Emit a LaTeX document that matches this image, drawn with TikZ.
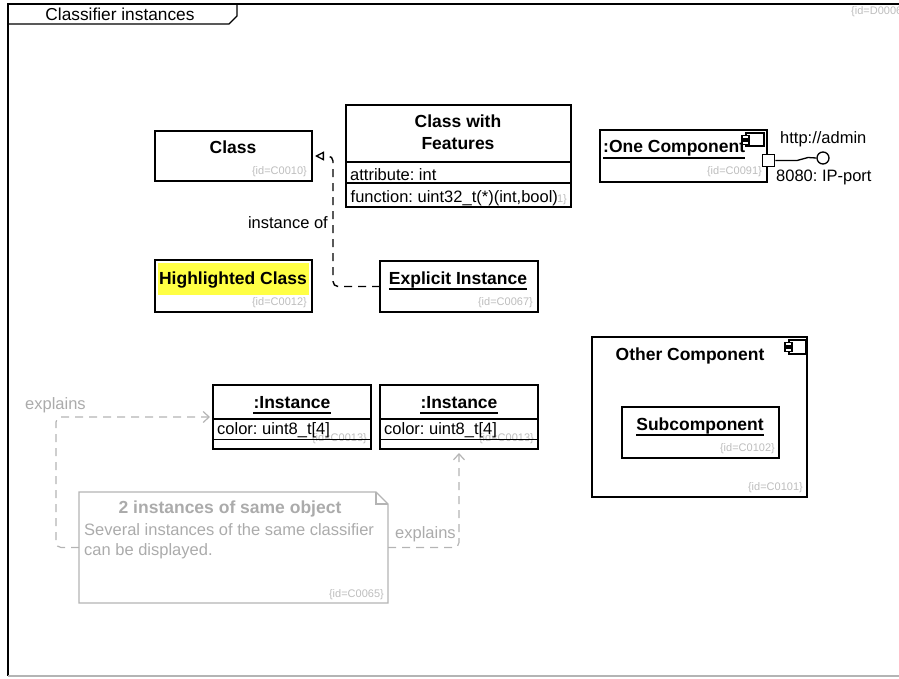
\documentclass[tikz,border=0pt]{standalone}
\usepackage{fontspec}
\setmainfont{Liberation Sans}
\usetikzlibrary{arrows.meta,calc}
\definecolor{idgrey}{HTML}{BDBDBD}
\definecolor{notegrey}{HTML}{B4B4B4}
\definecolor{notetext}{HTML}{ABABAB}
\definecolor{hlyellow}{HTML}{FFFF44}
\begin{document}
\frenchspacing
\begin{tikzpicture}[x=1pt,y=-1pt,
  box/.style={draw, line width=1.4pt, anchor=north west, inner sep=0pt, outer sep=0pt},
  sep/.style={line width=1.4pt},
  ttl/.style={font=\bfseries\fontsize{17.5}{21}\selectfont, inner sep=0pt, anchor=base},
  txt/.style={font=\fontsize{16.5}{20}\selectfont, inner sep=0pt, anchor=base west},
  idt/.style={font=\fontsize{11}{13}\selectfont, text=idgrey, inner sep=0pt, anchor=base east},
  uline/.style={line width=1.3pt},
  dep/.style={line width=1.4pt, dash pattern=on 8pt off 6pt, rounded corners=5pt},
  expl/.style={line width=1.2pt, draw=notegrey, dash pattern=on 8pt off 6pt, rounded corners=5pt, -{Straight Barb[length=6pt,width=11pt,line width=1.2pt]}},
  icon/.style={line width=1.2pt, fill=white}
]
\useasboundingbox (0,0) rectangle (899,678);
% frame
\coordinate (ftl) at (8,4);
\coordinate (ftr) at (899,4);
\coordinate (fbl) at (8,676);
\coordinate (fbr) at (899,676);
\draw[line width=1.4pt] (ftr) -- (ftl) -- (fbl);
\draw[line width=1.4pt, draw=notegrey] (fbl) -- (fbr);
\coordinate (tab1) at (8,24);
\coordinate (tab2) at (229,24);
\coordinate (tab3) at (237,16);
\coordinate (tab4) at (237,4);
\draw[line width=1.4pt] (tab1) -- (tab2) -- (tab3) -- (tab4);
\node[txt, anchor=base, font=\fontsize{17.3}{20}\selectfont] (frametitle) at (120,20) {Classifier instances};
\node[idt, anchor=base west] (frameid) at (851,14) {\{id=D0006\}};

% Class
\node[box, minimum width=157pt, minimum height=50pt] (class) at (155,131) {};
\node[ttl] (classT) at (233,153) {Class};
\node[idt] (classId) at (307,174) {\{id=C0010\}};

% Class with Features
\node[box, minimum width=225pt, minimum height=102pt] (feat) at (346,105) {};
\node[ttl] (featT1) at (458,127.5) {Class with};
\node[ttl] (featT2) at (458,149.5) {Features};
\draw[sep] (346,162) -- (571,162);
\draw[sep] (346,183) -- (571,183);
\node[txt] (featA) at (350,180) {attribute: int};
\node[idt] (featId) at (567,202) {\{id=C0011\}};
\node[txt, fill=white, inner sep=0.5pt] (featF) at (350,202) {function: uint32\_t(*)(int,bool)};

% Highlighted Class
\node[box, minimum width=157pt, minimum height=52pt] (hl) at (155,260) {};
\fill[hlyellow] (158,263) rectangle (309,295);
\node[ttl] (hlT) at (233,284) {Highlighted Class};
\node[idt] (hlId) at (307,305) {\{id=C0012\}};

% Explicit Instance
\node[box, minimum width=158pt, minimum height=51pt] (explicit) at (380,261) {};
\node[ttl] (explicitT) at (458,284) {Explicit Instance};
\draw[uline] ([yshift=-5pt]explicitT.base west) -- ([yshift=-5pt]explicitT.base east);
\node[idt] (explicitId) at (533,305) {\{id=C0067\}};

% instance of dependency
\draw[dep, -{Triangle[open, length=9pt, width=9pt, line width=1.3pt]}] (explicit.west) -| ($(class.east)+(21,0)$) -- ([xshift=3pt]class.east);
\node[txt, anchor=base east] (instof) at (328,228) {instance of};

% One Component
\node[box, minimum width=167pt, minimum height=52pt] (onec) at (600,130) {};
\node[ttl, anchor=base west] (onecT) at (603,152) {:One Component};
\draw[uline] ([yshift=-6pt]onecT.base west) -- ([yshift=-6pt]onecT.base east);
\node[idt] (onecId) at (762,174) {\{id=C0091\}};
\draw[icon] (746,133) rectangle (764,146);
\draw[icon] (742,135.5) rectangle (749,139);
\draw[icon] (742,141) rectangle (749,144.5);
\node[draw, line width=1.3pt, fill=white, minimum size=12.5pt, inner sep=0pt] (port) at (768.5,160.5) {};
\node[draw, line width=1.3pt, circle, minimum size=12pt, inner sep=0pt] (lolli) at (823,158) {};
\coordinate (lk1) at (797,160.5);
\coordinate (lk2) at (808,157.5);
\draw[line width=1.3pt] (port.east) -- (lk1) -- (lk2) -- (lolli.west);
\node[txt] (portA) at (780,143.5) {http://admin};
\node[txt] (portB) at (776,181.5) {8080: IP-port};

% Instances
\node[box, minimum width=158pt, minimum height=64pt] (inst1) at (213,385) {};
\node[box, minimum width=158pt, minimum height=64pt] (inst2) at (380,385) {};
\node[idt] (inst1Id) at (367,441) {\{id=C0013\}};
\node[idt] (inst2Id) at (534,441) {\{id=C0013\}};
\draw[sep] (213,419) -- (371,419);
\draw[sep] (213,439.5) -- (371,439.5);
\draw[sep] (380,419) -- (538,419);
\draw[sep] (380,439.5) -- (538,439.5);
\node[ttl] (inst1T) at (292,408) {:Instance};
\node[ttl] (inst2T) at (459,408) {:Instance};
\draw[uline] ([yshift=-5pt]inst1T.base west) -- ([yshift=-5pt]inst1T.base east);
\draw[uline] ([yshift=-5pt]inst2T.base west) -- ([yshift=-5pt]inst2T.base east);
\node[txt] (inst1A) at (217,434.5) {color: uint8\_t[4]};
\node[txt] (inst2A) at (384,434.5) {color: uint8\_t[4]};

% Note
\node[anchor=north west, minimum width=309pt, minimum height=111pt, inner sep=0pt, outer sep=0pt] (note) at (79,492) {};
\draw[line width=1.3pt, draw=notegrey] (note.south west) -- (note.north west) -- ([xshift=-12pt]note.north east) -- ([yshift=-12pt]note.north east) -- (note.south east) -- cycle;
\draw[line width=1.1pt, draw=notegrey] ([xshift=-12pt]note.north east) -- ([xshift=-12pt,yshift=-12pt]note.north east) -- ([yshift=-12pt]note.north east);
\node[ttl, text=notetext] (noteT) at (230,513) {2 instances of same object};
\node[txt, text=notetext] (noteL1) at (84,535) {Several instances of the same classifier};
\node[txt, text=notetext] (noteL2) at (84,555.5) {can be displayed.};
\node[idt] (noteId) at (384,597) {\{id=C0065\}};

% explains connectors
\coordinate (eb1) at (56,417);
\draw[expl] (note.west) -| (eb1) -- ([xshift=-3pt]inst1.west);
\draw[expl] (note.east) -| ([yshift=-4pt]inst2.south);
\node[txt, text=notetext] (ex1) at (25,409) {explains};
\node[txt, text=notetext] (ex2) at (395,538) {explains};

% Other Component
\node[box, minimum width=215pt, minimum height=160pt] (other) at (592,337) {};
\node[ttl] (otherT) at (690,360) {Other Component};
\draw[icon] (789,340) rectangle (806,354);
\draw[icon] (785,342.5) rectangle (792,346);
\draw[icon] (785,348) rectangle (792,351.5);
\node[idt] (otherId) at (803,490) {\{id=C0101\}};
\node[box, minimum width=157pt, minimum height=51pt] (sub) at (622,407) {};
\node[ttl] (subT) at (700,430) {Subcomponent};
\draw[uline] ([yshift=-5pt]subT.base west) -- ([yshift=-5pt]subT.base east);
\node[idt] (subId) at (775,451) {\{id=C0102\}};
\end{tikzpicture}
\end{document}
